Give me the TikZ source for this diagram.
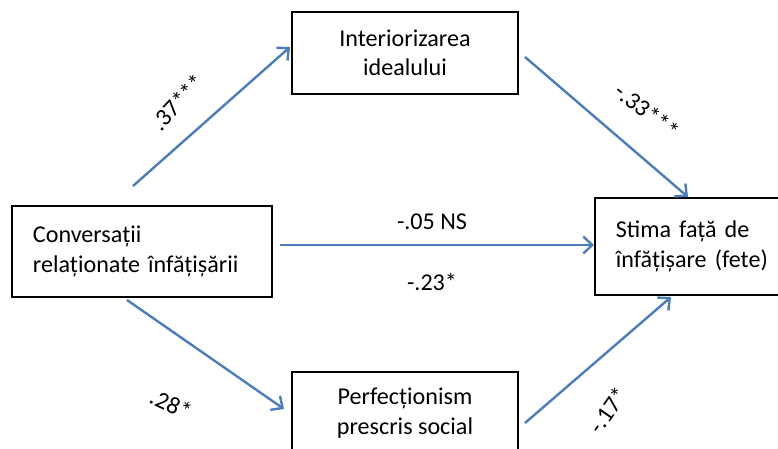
\documentclass[tikz,border=0pt]{standalone}
\usepackage{fontspec}
\setmainfont{Carlito}
\usetikzlibrary{arrows.meta, positioning, calc}
\definecolor{pathblue}{HTML}{4A7EBB}

\begin{document}
\begin{tikzpicture}[x=1bp, y=-1bp,
    box/.style={rectangle, draw, line width=1.6bp, minimum width=226bp, minimum height=82bp, align=center, font=\fontsize{24.2}{29.5}\selectfont},
    path/.style={draw=pathblue, line width=2.4bp, -{Straight Barb[length=9bp, width=17bp]}},
    coef/.style={font=\fontsize{24.2}{29.5}\selectfont}
]
\useasboundingbox (0,0) rectangle (778,449);
\clip (0,0) rectangle (778,449);
% variables
\node[box] (ideal) at (405,53) {Interiorizarea\\idealului};
\node[box, minimum width=260bp, minimum height=91bp, align=left, text width=218bp, inner xsep=21bp] (conv) at (142,251.5) {Conversații\\relaționate înfățișării};
\node[box, minimum width=0pt, minimum height=97bp, align=left, text width=184bp, inner xsep=21bp, anchor=west] (stima) at (594,246.5) {Stima față de\\înfățișare (fete)};
\node[box] (perf) at (405,413) {Perfecționism\\prescris social};
% free ends of the paths
\coordinate (a1) at (133,186);
\coordinate (b1) at (290,47);
\coordinate (a2) at (525,57);
\coordinate (b2) at (688,197);
\coordinate (a3) at (280,245);
\coordinate (a4) at (127,300);
\coordinate (b4) at (284,409);
\coordinate (a5) at (525,423);
\coordinate (b5) at (671,297);
\draw[path] (a1) -- (b1);
\draw[path] (a2) -- (b2);
\draw[path] (a3) -- (stima.west |- a3);
\draw[path] (a4) -- (b4);
\draw[path] (a5) -- (b5);
% coefficients
\node[coef, rotate=47] (c1) at (178,102) {.37***};
\node[coef, rotate=-38] (c2) at (647,111) {-.33***};
\node[coef] (c3) at (432,222) {-.05 NS};
\node[coef] (c4) at (432,282) {-.23*};
\node[coef, rotate=-25] (c5) at (171,404) {.28*};
\node[coef, rotate=55] (c6) at (608,410) {-.17*};
\end{tikzpicture}
\end{document}
